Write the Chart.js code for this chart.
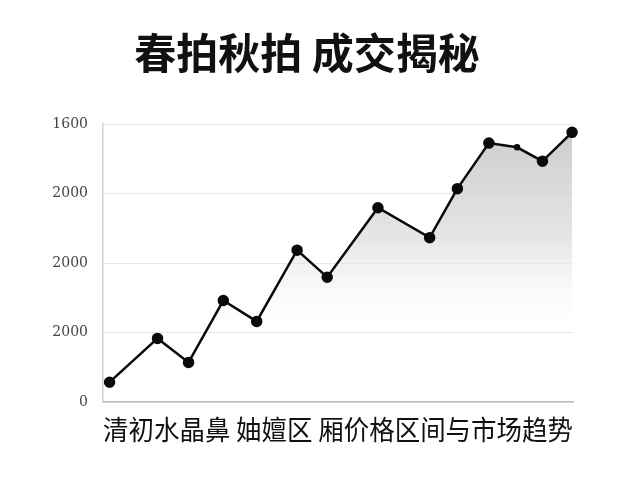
<!DOCTYPE html>
<html>
<head>
<meta charset="utf-8">
<script src="https://cdn.jsdelivr.net/npm/chart.js@4.4.1/dist/chart.umd.min.js"></script>
<style>
  html, body { margin: 0; padding: 0; background: #fff; }
  #wrap { width: 640px; height: 480px; }
</style>
</head>
<body>
<div id="wrap"><canvas id="auctionChart" width="640" height="480"></canvas></div>
<script>
const chartTitle = '春拍秋拍 成交揭秘';
const axisTitle = '清初水晶鼻 妯嬗区 厢价格区间与市场趋势';

// position of each sale along the timeline (0-100) and its value
const salePos = [1.4, 11.6, 18.2, 25.6, 32.7, 41.3, 47.7, 58.5, 69.5, 75.4, 82.1, 88.1, 93.5, 99.8];
const saleValues = [570, 1830, 1140, 2920, 2320, 4370, 3590, 5590, 4730, 6140, 7450, 7330, 6930, 7760];

// tick labels as printed, bottom to top
const tickLabels = ['0', '2000', '2000', '2000', '1600'];

const points = salePos.map((x, i) => ({ x: x, y: saleValues[i] }));

// title drawn left of canvas centre, like the original
const titlePlugin = {
    id: 'bigTitle',
    afterDraw(chart) {
        const c = chart.ctx;
        c.save();
        c.font = 'bold 42px "Noto Sans CJK SC"';
        c.fillStyle = '#111';
        c.textAlign = 'center';
        c.textBaseline = 'middle';
        c.fillText(chartTitle, 307, 53);
        c.restore();
    }
};

function areaFill(ctx) {
    const area = ctx.chart.chartArea;
    if (!area) return 'rgba(200,200,200,0.4)';
    const g = ctx.chart.ctx.createLinearGradient(0, area.top, 0, area.bottom);
    g.addColorStop(0, 'rgba(200,200,200,0.95)');
    g.addColorStop(0.4, 'rgba(222,222,222,0.8)');
    g.addColorStop(0.78, 'rgba(255,255,255,0)');
    g.addColorStop(1, 'rgba(255,255,255,0)');
    return g;
}

new Chart(document.getElementById('auctionChart'), {
    type: 'line',
    data: {
        datasets: [{
            data: points,
            borderColor: '#0a0a0a',
            borderWidth: 2.5,
            pointBackgroundColor: '#0a0a0a',
            pointBorderColor: '#0a0a0a',
            pointRadius: c => c.dataIndex === 11 ? 2 : 4.5,
            tension: 0,
            fill: 'origin',
            backgroundColor: areaFill,
            clip: false
        }]
    },
    options: {
        responsive: false,
        animation: false,
        layout: { padding: { top: 124, right: 67, left: 0, bottom: 0 } },
        plugins: {
            legend: { display: false },
            title: { display: false },
            tooltip: { enabled: false }
        },
        scales: {
            x: {
                type: 'linear',
                min: 0,
                max: 100,
                afterFit: s => { s.height = 78; },
                grid: { display: false, drawTicks: false },
                border: { color: '#bdbdbd', width: 1.5 },
                ticks: { display: false },
                title: {
                    display: true,
                    text: axisTitle,
                    color: '#111',
                    font: { family: '"Noto Sans CJK SC"', size: 27 },
                    padding: { top: 0, bottom: 34 }
                }
            },
            y: {
                min: 0,
                max: 8000,
                afterFit: s => { s.width = 103; },
                grid: { color: '#e8e8e8', drawTicks: false },
                border: { color: '#d0d0d0', width: 1.5 },
                ticks: {
                    stepSize: 2000,
                    padding: 15,
                    color: '#444',
                    font: { family: '"DejaVu Serif"', size: 14 },
                    callback: (v, i) => tickLabels[i]
                }
            }
        }
    },
    plugins: [titlePlugin]
});
</script>
</body>
</html>
